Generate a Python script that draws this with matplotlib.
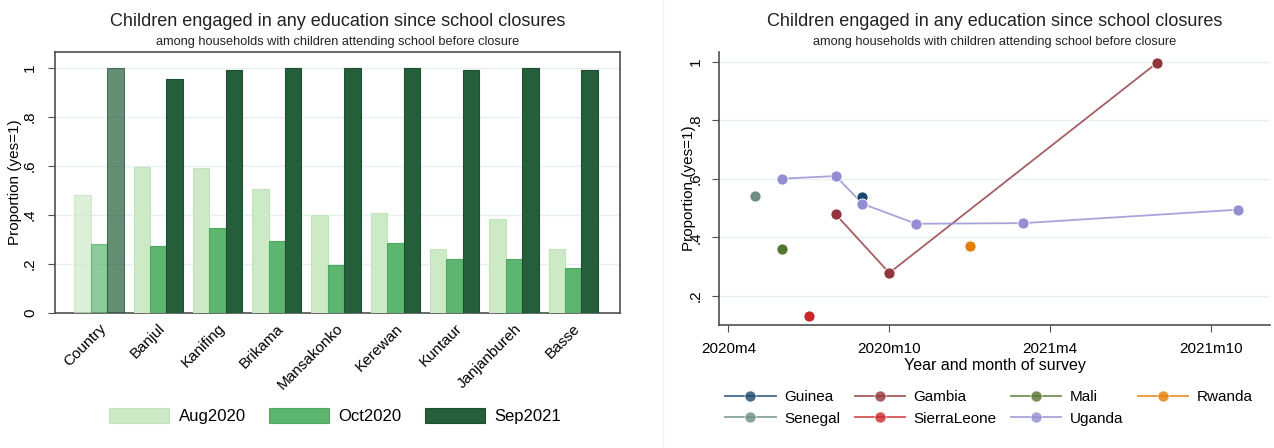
import numpy as np
import matplotlib.pyplot as plt
from matplotlib.lines import Line2D
from matplotlib.patches import Patch

plt.rcParams['font.family'] = ['Liberation Sans', 'DejaVu Sans']

# ----------------------------
# Data: left panel (Gambia regions)
# ----------------------------
regions = ['Country', 'Banjul', 'Kanifing', 'Brikama', 'Mansakonko',
           'Kerewan', 'Kuntaur', 'Janjanbureh', 'Basse']
aug2020 = [0.48, 0.595, 0.59, 0.505, 0.40, 0.41, 0.26, 0.385, 0.26]
oct2020 = [0.28, 0.275, 0.345, 0.295, 0.197, 0.285, 0.22, 0.22, 0.185]
sep2021 = [1.00, 0.955, 0.99, 1.00, 1.00, 1.00, 0.99, 1.00, 0.99]
rounds = ['Aug2020', 'Oct2020', 'Sep2021']

# ----------------------------
# Data: right panel (months since 2020m4)
# ----------------------------
month_ticks = [0, 6, 12, 18]
month_labels = ['2020m4', '2020m10', '2021m4', '2021m10']
countries = ['Guinea', 'Gambia', 'Mali', 'Rwanda', 'Senegal', 'SierraLeone', 'Uganda']
months = {
    'Guinea': [5],
    'Gambia': [4, 6, 16],
    'Mali': [2],
    'Rwanda': [9],
    'Senegal': [1],
    'SierraLeone': [3],
    'Uganda': [2, 4, 5, 7, 11, 19],
}
shares = {
    'Guinea': [0.539],
    'Gambia': [0.478, 0.278, 0.997],
    'Mali': [0.361],
    'Rwanda': [0.370],
    'Senegal': [0.542],
    'SierraLeone': [0.129],
    'Uganda': [0.60, 0.609, 0.514, 0.446, 0.448, 0.494],
}
colors = {
    'Guinea': '#1a476f', 'Gambia': '#90353b', 'Mali': '#55752f',
    'Rwanda': '#e37e00', 'Senegal': '#6e8e84', 'SierraLeone': '#c8282c',
    'Uganda': '#938dd2',
}

title = 'Children engaged in any education since school closures'
subtitle = 'among households with children attending school before closure'
grid_col = '#e8f0f1'
spine_col = '#505050'

fig = plt.figure(figsize=(12.74, 4.48), dpi=100)

# ----------------------------
# Left: grouped bars
# ----------------------------
ax1 = fig.add_axes([0.0432, 0.3013, 0.4435, 0.5826])
x = np.arange(len(regions))
w = 0.277
bar_cols = ['#cdeac6', '#5cb66f', '#245e3a']
edge_cols = ['#c3e3bb', '#4fa862', '#1d4f30']
for i, vals in enumerate([aug2020, oct2020, sep2021]):
    bars = ax1.bar(x + (i - 1) * w, vals, w, color=bar_cols[i], edgecolor=edge_cols[i],
                   linewidth=0.8, zorder=3)
    # national bars are drawn lighter
    bars[0].set_alpha(0.7)

ax1.set_xlim(-0.74, 8.79)
ax1.set_ylim(0, 1.065)
ax1.set_yticks([0, 0.2, 0.4, 0.6, 0.8, 1.0])
ax1.set_yticklabels(['0', '.2', '.4', '.6', '.8', '1'], rotation=90, va='center')
ax1.set_xticks(x)
ax1.set_xticklabels(regions, rotation=45, ha='right', rotation_mode='anchor')
ax1.tick_params(axis='x', length=0, pad=6, labelsize=11)
ax1.tick_params(axis='y', length=5, pad=8, labelsize=11, color=spine_col)
ax1.grid(axis='y', color=grid_col, linewidth=1, zorder=0)
for s in ax1.spines.values():
    s.set_color(spine_col)
    s.set_linewidth(1.2)
ax1.set_ylabel('Proportion (yes=1)', fontsize=11)
ax1.yaxis.set_label_coords(-0.058, 0.5)
leg_handles = [Patch(facecolor=bar_cols[i], edgecolor=edge_cols[i], linewidth=0.8) for i in range(3)]
ax1.legend(leg_handles, rounds, loc='center', bbox_to_anchor=(335 / 1274, 1 - 416 / 448),
           bbox_transform=fig.transFigure, ncol=3, frameon=False, fontsize=12,
           handlelength=3.6, handleheight=1.0, handletextpad=0.55, columnspacing=1.4)

fig.text(337.5 / 1274, 1 - 21 / 448, title, ha='center', va='center', fontsize=13, color='#222222')
fig.text(337.5 / 1274, 1 - 42.5 / 448, subtitle, ha='center', va='center', fontsize=9.2, color='#222222')

# ----------------------------
# Right: country trajectories
# ----------------------------
ax2 = fig.add_axes([0.5644, 0.2746, 0.4325, 0.6094])
for c in countries:
    ax2.plot(months[c], shares[c], color=colors[c], linewidth=1.3, alpha=0.8, zorder=2)
    ax2.plot(months[c], shares[c], 'o', color=colors[c], markersize=8,
             markeredgecolor='white', markeredgewidth=0.6, zorder=3)

ax2.set_xlim(-0.35, 20.2)
ax2.set_ylim(0.1, 1.033)
ax2.set_xticks(month_ticks)
ax2.set_xticklabels(month_labels)
ax2.set_yticks([0.2, 0.4, 0.6, 0.8, 1.0])
ax2.set_yticklabels(['.2', '.4', '.6', '.8', '1'], rotation=90, va='center')
ax2.tick_params(axis='both', length=5, labelsize=11, color=spine_col)
ax2.tick_params(axis='y', pad=7)
ax2.tick_params(axis='x', pad=7)
ax2.grid(axis='y', color=grid_col, linewidth=1, zorder=0)
ax2.spines['top'].set_visible(False)
ax2.spines['right'].set_visible(False)
for s in ['left', 'bottom']:
    ax2.spines[s].set_color(spine_col)
    ax2.spines[s].set_linewidth(1.2)
# the reference draws this label across the tick labels
ax2.set_ylabel('Proportion (yes=1)', fontsize=11)
ax2.yaxis.set_label_coords(-0.0415, 0.5)
ax2.set_xlabel('Year and month of survey', fontsize=11.5, labelpad=1.5)

order = ['Guinea', 'Senegal', 'Gambia', 'SierraLeone', 'Mali', 'Uganda', 'Rwanda']
handles = [Line2D([], [], color=colors[c], linewidth=1.3, alpha=0.8, marker='o',
                  markersize=8, markerfacecolor=colors[c], markeredgecolor='white',
                  markeredgewidth=0.6) for c in order]
ax2.legend(handles, order, loc='center', bbox_to_anchor=(989 / 1274, 1 - 408 / 448),
           bbox_transform=fig.transFigure, ncol=4, frameon=False, fontsize=11,
           handlelength=3.3, handletextpad=0.55, columnspacing=0.95, labelspacing=0.5)

fig.text(994.5 / 1274, 1 - 21 / 448, title, ha='center', va='center', fontsize=13, color='#222222')
fig.text(994.5 / 1274, 1 - 42.5 / 448, subtitle, ha='center', va='center', fontsize=9.2, color='#222222')

fig.add_artist(Line2D([663 / 1274, 663 / 1274], [0, 1], color='#f2f2f2', linewidth=1))

plt.savefig('out.png', dpi=100)
